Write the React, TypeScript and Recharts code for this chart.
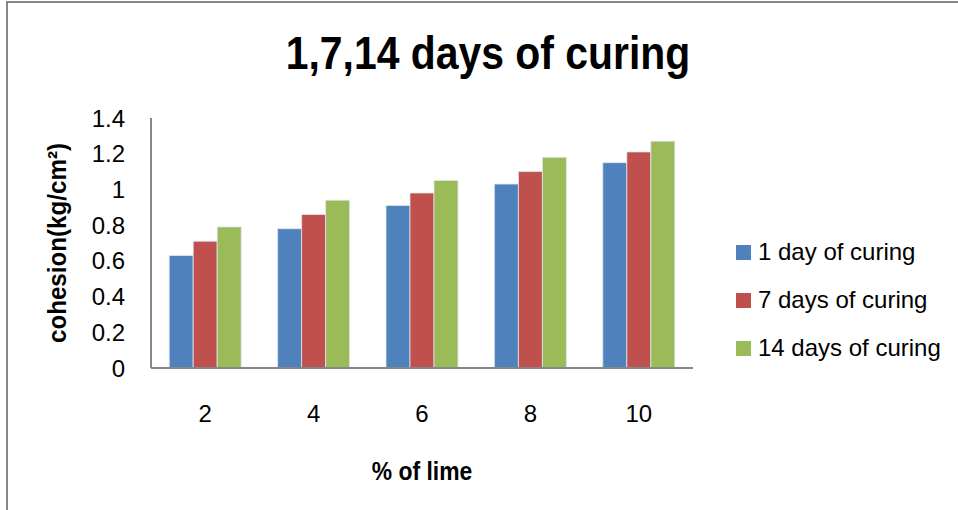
import React from 'react';
import { BarChart, Bar, XAxis, YAxis, Legend } from 'recharts';

const limePercent = ['2', '4', '6', '8', '10'];
const oneDay = [0.63, 0.78, 0.91, 1.03, 1.15];
const sevenDays = [0.71, 0.86, 0.98, 1.1, 1.21];
const fourteenDays = [0.79, 0.94, 1.05, 1.18, 1.27];
const yTicks = [0, 0.2, 0.4, 0.6, 0.8, 1, 1.2, 1.4];

const seriesList = [
  { key: 'day1', name: '1 day of curing', color: '#4F81BD', values: oneDay },
  { key: 'day7', name: '7 days of curing', color: '#C0504D', values: sevenDays },
  { key: 'day14', name: '14 days of curing', color: '#9BBB59', values: fourteenDays },
];

const data = limePercent.map((lime, i) => {
  const row: Record<string, string | number> = { lime };
  seriesList.forEach((s) => {
    row[s.key] = s.values[i];
  });
  return row;
});

const tickFont = "'Liberation Sans', Arial, sans-serif";

function LegendList() {
  return (
    <div style={{ fontFamily: tickFont, fontSize: 24, color: '#000' }}>
      {seriesList.map((s) => (
        <div key={s.key} style={{ display: 'flex', alignItems: 'center', height: 48 }}>
          <span style={{ width: 15, height: 15, background: s.color, display: 'inline-block', marginRight: 7 }} />
          <span style={{ whiteSpace: 'nowrap' }}>{s.name}</span>
        </div>
      ))}
    </div>
  );
}

// narrow bold text: no condensed font installed, so squeeze Liberation Sans Bold
function XTitle(props: any) {
  const { x, y, width, height } = props.viewBox;
  const cx = x + width / 2;
  const by = y + height - 30;
  return (
    <text
      transform={`translate(${cx},${by}) scale(0.88,1)`}
      textAnchor="middle"
      fontFamily={tickFont}
      fontWeight="bold"
      fontSize={26}
      fill="#000"
    >
      % of lime
    </text>
  );
}

function YTitle(props: any) {
  const { y, height } = props.viewBox;
  const cy = y + height / 2;
  return (
    <text
      transform={`translate(57,${cy}) rotate(-90) scale(0.93,1)`}
      textAnchor="middle"
      dominantBaseline="central"
      fontFamily={tickFont}
      fontWeight="bold"
      fontSize={26}
      fill="#000"
    >
      cohesion(kg/cm²)
    </text>
  );
}

export default function App() {
  return (
    <div
      style={{
        position: 'absolute',
        left: 0,
        top: 0,
        width: 958,
        height: 510,
        overflow: 'hidden',
        background: '#fff',
      }}
    >
      {/* outer frame, runs off the right and bottom edges */}
      <div
        style={{
          position: 'absolute',
          left: 6,
          top: 1,
          width: 1100,
          height: 700,
          border: '2px solid #878787',
        }}
      />
      <div
        style={{
          position: 'absolute',
          left: 287.5 - 150,
          width: 700,
          top: 72 - 47 * 0.905,
          textAlign: 'center',
          fontFamily: tickFont,
          fontWeight: 'bold',
          fontSize: 47,
          lineHeight: '47px',
          color: '#000',
          transform: 'scaleX(0.87)',
          transformOrigin: '350px 0',
          whiteSpace: 'nowrap',
        }}
      >
        1,7,14 days of curing
      </div>
      <div style={{ position: 'absolute', left: 0, top: 0 }}>
        <BarChart
          width={958}
          height={510}
          data={data}
          margin={{ top: 118, right: 265, bottom: 0, left: 0 }}
          barCategoryGap="16.8%"
          barGap={0}
        >
          <XAxis
            dataKey="lime"
            height={142}
            tickLine={false}
            tickSize={0}
            tickMargin={37}
            axisLine={{ stroke: '#878787', strokeWidth: 2 }}
            tick={{ fill: '#000', fontSize: 24, fontFamily: tickFont }}
            label={<XTitle />}
          />
          <YAxis
            width={151}
            domain={[0, 1.4]}
            ticks={yTicks}
            interval={0}
            tickLine={false}
            tickSize={0}
            tickMargin={26}
            axisLine={{ stroke: '#878787', strokeWidth: 2 }}
            tick={{ fill: '#000', fontSize: 24, fontFamily: tickFont }}
            label={<YTitle />}
          />
          <Legend
            layout="horizontal"
            verticalAlign="middle"
            align="center"
            content={() => <LegendList />}
            wrapperStyle={{ left: 736, top: 228, width: 220, height: 144 }}
          />
          {seriesList.map((s) => (
            <Bar
              key={s.key}
              dataKey={s.key}
              name={s.name}
              fill={s.color}
              stroke="#dfe6f0"
              strokeWidth={0.8}
              isAnimationActive={false}
            />
          ))}
        </BarChart>
      </div>
    </div>
  );
}
